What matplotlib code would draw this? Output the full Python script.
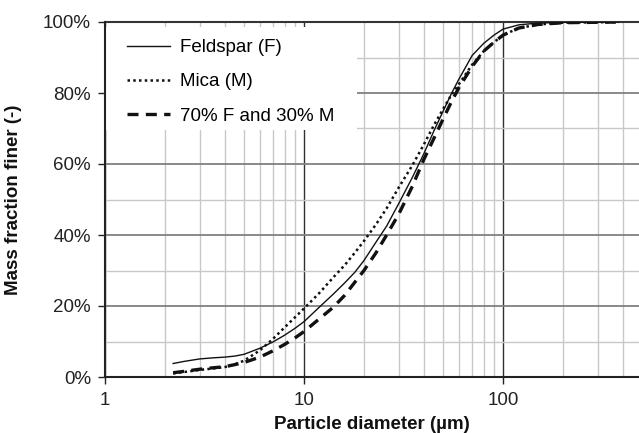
import matplotlib
matplotlib.use("Agg")
import matplotlib.pyplot as plt
from matplotlib.ticker import FixedLocator, PercentFormatter, NullFormatter, FixedFormatter
from matplotlib.patches import Rectangle

# particle diameters (µm)
diam = [2.2, 2.5, 3, 3.5, 4, 4.5, 5, 6, 7, 8, 9, 10, 12, 14, 16, 18, 20, 23, 26,
        30, 35, 40, 45, 50, 55, 60, 70, 80, 90, 100, 120, 150, 200, 380]
feldspar = [3.8, 4.4, 5.1, 5.4, 5.6, 5.9, 6.4, 8.1, 9.9, 11.8, 13.7, 15.6, 19.8, 23.3,
            26.5, 29.5, 32.8, 38.0, 42.5, 49.0, 56.2, 62.9, 69.4, 74.9, 79.8, 83.9,
            90.6, 94.0, 96.3, 98.0, 99.2, 99.7, 99.9, 100.0]
mica = [1.0, 1.4, 2.0, 2.4, 2.8, 3.6, 4.6, 7.5, 10.8, 14.0, 16.8, 19.3, 23.8, 28.0,
        31.5, 35.0, 38.3, 43.0, 47.5, 53.5, 59.6, 65.5, 71.0, 75.5, 79.5, 82.5,
        88.0, 91.8, 94.3, 96.3, 98.3, 99.3, 99.8, 100.0]
mix = [1.2, 1.6, 2.2, 2.6, 2.9, 3.5, 4.1, 5.6, 7.4, 9.2, 11.0, 12.8, 16.5, 19.6,
       23.0, 26.7, 30.0, 35.0, 40.0, 46.0, 53.7, 61.3, 67.3, 72.7, 77.5, 81.5,
       87.5, 91.8, 94.3, 96.3, 98.3, 99.3, 99.8, 100.0]
labels = ["Feldspar (F)", "Mica (M)", "70% F and 30% M"]
x_ticks = [1, 10, 100]
x_ticklabels = ["1", "10", "100"]
y_ticks = [0, 20, 40, 60, 80, 100]

plt.rcParams['font.family'] = ['Liberation Sans', 'DejaVu Sans']
FS = 13.5

fig = plt.figure(figsize=(6.39, 4.33), dpi=100)
ax = fig.add_axes([105/639, 1-377/433, 1-105/639, (377-22)/433])

ax.set_xscale('log')
ax.set_xlim(1, 482)
ax.set_ylim(0, 100)

ax.xaxis.set_major_locator(FixedLocator(x_ticks))
ax.xaxis.set_major_formatter(FixedFormatter(x_ticklabels))
minor_x = [m * d for d in (1, 10, 100) for m in range(2, 10) if m * d < 482]
ax.xaxis.set_minor_locator(FixedLocator(minor_x))
ax.xaxis.set_minor_formatter(NullFormatter())
ax.yaxis.set_major_locator(FixedLocator(y_ticks))
ax.yaxis.set_minor_locator(FixedLocator([10, 30, 50, 70, 90]))
ax.yaxis.set_major_formatter(PercentFormatter(100, decimals=0))

ax.grid(True, which='minor', axis='both', color='#c8c8c8', lw=1.0)
ax.grid(True, which='major', axis='y', color='#808080', lw=1.3)
ax.grid(True, which='major', axis='x', color='#303030', lw=1.0)
ax.set_axisbelow(True)

ax.tick_params(axis='both', which='major', labelsize=FS, colors='#222222',
               length=5, width=1, direction='out')
ax.tick_params(axis='x', which='major', pad=6)
ax.tick_params(axis='y', which='major', pad=5)
ax.tick_params(which='minor', length=0)

for s in ['left', 'bottom']:
    ax.spines[s].set_linewidth(1.5)
    ax.spines[s].set_color('#222222')
    ax.spines[s].set_zorder(10)
ax.spines['top'].set_linewidth(1.5)
ax.spines['top'].set_color('#333333')
ax.spines['right'].set_visible(False)

l1, = ax.plot(diam, feldspar, color='#111111', lw=1.0, zorder=4)
l2, = ax.plot(diam, mica, color='#111111', lw=1.8, ls=(0, (1, 1.3)), zorder=4)
l3, = ax.plot(diam, mix, color='#111111', lw=2.4, ls=(0, (3.3, 2.2)), zorder=4)

# white block behind legend
ax.add_patch(Rectangle((0, (377-130)/355), (357-105)/534, (130-27)/355,
                       transform=ax.transAxes, facecolor='white', edgecolor='none',
                       zorder=3))

leg = ax.legend([l1, l2, l3], labels, loc='upper left',
                bbox_to_anchor=(22/534, (377-39)/355), frameon=False,
                borderpad=0, borderaxespad=0, fontsize=FS, handlelength=2.3,
                handletextpad=0.55, labelspacing=0.92)
leg.set_zorder(5)

ax.set_xlabel("Particle diameter (µm)", fontsize=FS, fontweight='bold', color='#111111')
ax.set_ylabel("Mass fraction finer (-)", fontsize=FS, fontweight='bold', color='#111111')
ax.xaxis.set_label_coords(0.5, (377-416)/355)
ax.yaxis.set_label_coords((22-105)/534, 0.5)

fig.savefig("out.png", dpi=100)
